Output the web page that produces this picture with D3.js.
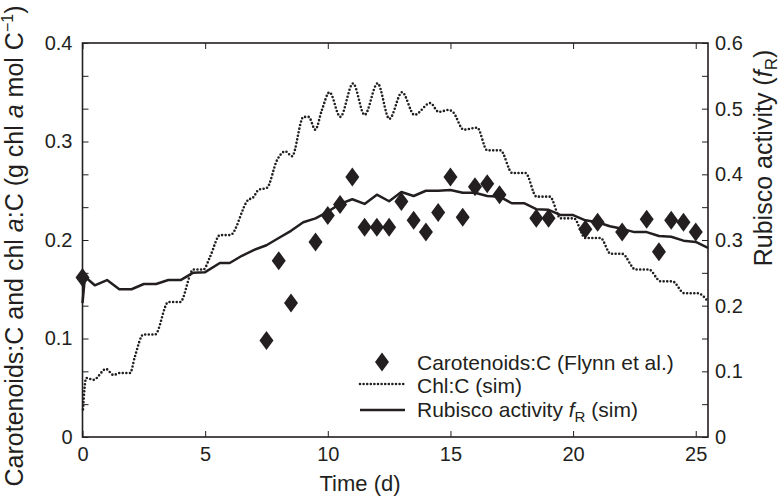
<!DOCTYPE html>
<html>
<head>
<meta charset="utf-8">
<script src="https://cdn.jsdelivr.net/npm/d3@7"></script>
<style>
  body { margin: 0; background: #fff; }
  text { font-family: "Liberation Sans", Arial, sans-serif; fill: #231f20; }
</style>
</head>
<body>
<div id="canvas"></div>
<script>
// chart size
const width = 780;
const height = 497;

// observed carotenoids:C (Flynn et al.) - left axis
const obsTime = [0, 7.5, 8, 8.5, 9.5, 10, 10.5, 11, 11.5, 12, 12.5, 13, 13.5, 14, 14.5, 15, 15.5,
                 16, 16.5, 17, 18.5, 19, 20.5, 21, 22, 23, 23.5, 24, 24.5, 25];
const obsCarot = [0.162, 0.098, 0.179, 0.136, 0.198, 0.225, 0.236, 0.264, 0.213, 0.213, 0.213, 0.239, 0.22, 0.208, 0.228, 0.264, 0.223,
                  0.254, 0.257, 0.246, 0.222, 0.222, 0.211, 0.218, 0.208, 0.221, 0.188, 0.22, 0.218, 0.208];

// simulated chl:C (dotted) - left axis
const chlTime = [0.02, 0.15, 0.45, 0.96, 1.26, 1.53, 1.94, 2.14, 2.48, 2.96, 3.5, 3.98, 4.52, 4.93, 5.2, 5.61, 6.02,
                 6.77, 6.95, 7.18, 7.52, 7.93, 8.27, 8.54, 9.01, 9.22, 9.49, 9.76, 10.07, 10.51, 11.03, 11.5, 12.03,
                 12.51, 13.03, 13.53, 14.18, 14.52, 14.93, 15.1, 15.54, 16.09, 16.5, 17.04, 17.52, 18.06, 18.51, 19.05,
                 19.49, 20.03, 20.5, 21.12, 21.53, 22.0, 22.55, 23.09, 23.57, 24.05, 24.53, 25.07, 25.52];
const chlSim = [0.028, 0.06, 0.058, 0.069, 0.063, 0.065, 0.065, 0.082, 0.104, 0.104, 0.137, 0.137, 0.17, 0.17, 0.183, 0.205, 0.205,
                0.241, 0.243, 0.251, 0.253, 0.281, 0.29, 0.285, 0.325, 0.325, 0.312, 0.332, 0.35, 0.325, 0.359, 0.327, 0.359,
                0.323, 0.35, 0.327, 0.339, 0.33, 0.332, 0.33, 0.312, 0.314, 0.291, 0.291, 0.268, 0.268, 0.244, 0.244,
                0.222, 0.222, 0.202, 0.202, 0.186, 0.186, 0.17, 0.17, 0.158, 0.158, 0.146, 0.146, 0.137];

// simulated rubisco activity fR (solid) - right axis
const rubTime = [0, 0.1, 0.5, 1, 1.5, 2, 2.5, 3, 3.5, 4, 4.5, 5, 5.6, 6, 6.5, 7, 7.5, 8, 8.5, 9, 9.5, 10,
                 10.5, 11, 11.5, 12, 12.5, 13, 13.5, 14, 14.5, 15, 15.5, 16, 16.5, 17, 17.5, 18, 18.5, 19,
                 19.5, 20, 20.5, 21, 21.5, 22, 22.5, 23, 23.5, 24, 24.5, 25, 25.5];
const rubSim = [0.204, 0.244, 0.231, 0.239, 0.225, 0.225, 0.233, 0.233, 0.239, 0.239, 0.25, 0.251, 0.265, 0.265, 0.276, 0.285, 0.292, 0.303, 0.314, 0.327, 0.333, 0.343,
                0.355, 0.362, 0.355, 0.369, 0.359, 0.373, 0.367, 0.375, 0.375, 0.376, 0.372, 0.372, 0.367, 0.366, 0.356, 0.356, 0.347, 0.346,
                0.338, 0.338, 0.33, 0.327, 0.321, 0.317, 0.312, 0.312, 0.306, 0.305, 0.299, 0.297, 0.288];

// tick labels
const xTicks = [0, 5, 10, 15, 20, 25];
const leftTicks = [0, 0.1, 0.2, 0.3, 0.4];
const rightTicks = [0, 0.1, 0.2, 0.3, 0.4, 0.5, 0.6];
const minorTicks = d3.range(0, 0.6001, 0.05);

const ink = '#231f20';

const svg = d3.select('#canvas')
  .append('svg')
  .attr('width', width)
  .attr('height', height);

// plot area
const plotL = 82.5, plotR = 708, plotT = 43, plotB = 437;

const x = d3.scaleLinear().domain([0, 25.5]).range([plotL, plotR]);
const yL = d3.scaleLinear().domain([0, 0.4]).range([plotB, plotT]);
const yR = d3.scaleLinear().domain([0, 0.6]).range([plotB, plotT]);

const fmt = d => d === 0 ? '0' : d.toFixed(1);

// axes
const axBottom = svg.append('g').attr('transform', `translate(0,${plotB})`)
  .call(d3.axisBottom(x).tickValues(xTicks).tickSize(-6).tickPadding(10).tickFormat(d3.format('d')));
const axTop = svg.append('g').attr('transform', `translate(0,${plotT})`)
  .call(d3.axisTop(x).tickValues(xTicks).tickSize(-6).tickFormat(''));
const axLeft = svg.append('g').attr('transform', `translate(${plotL},0)`)
  .call(d3.axisLeft(yL).tickValues(leftTicks).tickSize(0).tickPadding(10).tickFormat(fmt));
const axLeftMinor = svg.append('g').attr('transform', `translate(${plotL},0)`)
  .call(d3.axisLeft(yR).tickValues(minorTicks).tickSize(-6).tickFormat(''));
const axRight = svg.append('g').attr('transform', `translate(${plotR},0)`)
  .call(d3.axisRight(yR).tickValues(rightTicks).tickSize(0).tickPadding(7).tickFormat(fmt));
const axRightMinor = svg.append('g').attr('transform', `translate(${plotR},0)`)
  .call(d3.axisRight(yR).tickValues(minorTicks).tickSize(-6).tickFormat(''));

[axBottom, axTop, axLeft, axLeftMinor, axRight, axRightMinor].forEach(a => {
  a.select('.domain').remove();
  a.selectAll('line').attr('stroke', ink).attr('stroke-width', 1);
  a.selectAll('text').style('font-size', '20px').attr('fill', ink);
});

// frame
svg.append('rect')
  .attr('x', plotL).attr('y', plotT)
  .attr('width', plotR - plotL).attr('height', plotB - plotT)
  .attr('fill', 'none').attr('stroke', ink).attr('stroke-width', 1.6);

// chl:C dotted line
const chlData = chlTime.map((t, i) => [t, chlSim[i]]);
svg.append('path')
  .datum(chlData)
  .attr('fill', 'none')
  .attr('stroke', ink)
  .attr('stroke-width', 2.6)
  .attr('stroke-linecap', 'round')
  .attr('stroke-dasharray', '0,3.6')
  .attr('d', d3.line().curve(d3.curveMonotoneX).x(d => x(d[0])).y(d => yL(d[1])));

// rubisco solid line
const rubData = rubTime.map((t, i) => [t, rubSim[i]]);
svg.append('path')
  .datum(rubData)
  .attr('fill', 'none')
  .attr('stroke', ink)
  .attr('stroke-width', 2.5)
  .attr('stroke-linejoin', 'round')
  .attr('d', d3.line().x(d => x(d[0])).y(d => yR(d[1])));

// diamonds
const diamond = (cx, cy) => `M${cx},${cy - 9.5}L${cx + 7},${cy}L${cx},${cy + 9.5}L${cx - 7},${cy}Z`;
svg.selectAll('.obs')
  .data(obsTime.map((t, i) => [t, obsCarot[i]]))
  .enter().append('path')
    .attr('class', 'obs')
    .attr('fill', ink)
    .attr('d', d => diamond(x(d[0]), yL(d[1])));

// legend
const lg = svg.append('g');
lg.append('path').attr('fill', ink).attr('d', diamond(382, 362));
lg.append('line').attr('x1', 360).attr('x2', 405).attr('y1', 384).attr('y2', 384)
  .attr('stroke', ink).attr('stroke-width', 2.6).attr('stroke-linecap', 'round').attr('stroke-dasharray', '0,3.6');
lg.append('line').attr('x1', 360).attr('x2', 405).attr('y1', 410).attr('y2', 410)
  .attr('stroke', ink).attr('stroke-width', 2.5);
lg.append('text').attr('x', 417).attr('y', 370).style('font-size', '21px').text('Carotenoids:C (Flynn et al.)');
lg.append('text').attr('x', 417).attr('y', 393).style('font-size', '21px').text('Chl:C (sim)');
const l3 = lg.append('text').attr('x', 417).attr('y', 417).style('font-size', '21px');
l3.append('tspan').text('Rubisco activity ');
l3.append('tspan').style('font-style', 'italic').text('f');
l3.append('tspan').attr('dy', 5).style('font-size', '15px').text('R');
l3.append('tspan').attr('dy', -5).text(' (sim)');

// axis titles
svg.append('text')
  .attr('x', 360).attr('y', 491)
  .attr('text-anchor', 'middle')
  .style('font-size', '22px')
  .text('Time (d)');

const yt = svg.append('text')
  .attr('transform', `translate(23,246) rotate(-90)`)
  .attr('text-anchor', 'middle')
  .style('font-size', '25px');
yt.append('tspan').text('Carotenoids:C and chl ');
yt.append('tspan').style('font-style', 'italic').text('a');
yt.append('tspan').text(':C (g chl ');
yt.append('tspan').style('font-style', 'italic').text('a');
yt.append('tspan').text(' mol C');
yt.append('tspan').attr('dy', -10).style('font-size', '16px').text('\u22121');
yt.append('tspan').attr('dy', 10).text(')');

const rt = svg.append('text')
  .attr('transform', `translate(772,158) rotate(-90)`)
  .attr('text-anchor', 'middle')
  .style('font-size', '25px');
rt.append('tspan').text('Rubisco activity (');
rt.append('tspan').style('font-style', 'italic').text('f');
rt.append('tspan').attr('dy', 5).style('font-size', '17px').text('R');
rt.append('tspan').attr('dy', -5).text(')');
</script>
</body>
</html>
